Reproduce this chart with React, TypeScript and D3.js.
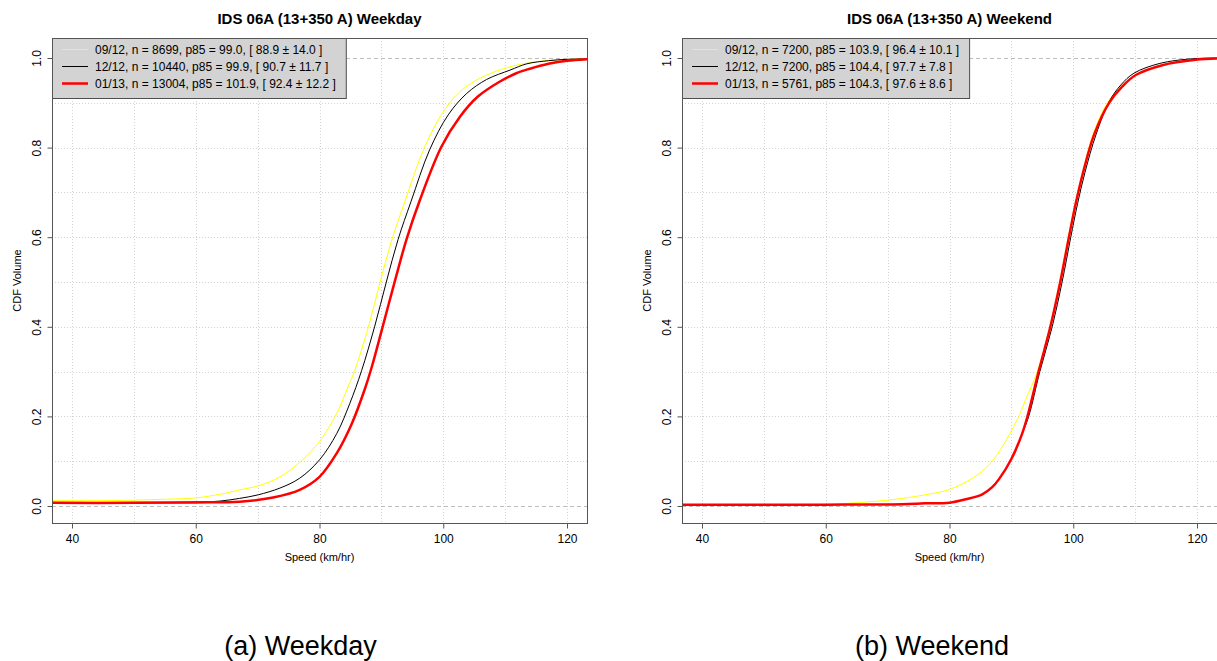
import React, { useEffect, useRef } from 'react'
import * as d3 from 'd3'

const W = 1217
const H = 661
const FONT = 'Liberation Sans, Arial, Helvetica, sans-serif'

// weekday, 09/12
const wdSepSpeed = [36, 45, 50, 55, 60, 63, 65, 67.1, 70.1, 73.6, 77.1, 80, 82.8, 84.4, 85.7, 87.9, 89.8, 91.6, 93.8, 96.8, 99.5, 102.1, 105.4, 109.7, 112.9, 116, 120, 124]
const wdSepCdf = [0.012, 0.012, 0.013, 0.015, 0.018, 0.024, 0.029, 0.036, 0.045, 0.065, 0.101, 0.144, 0.207, 0.259, 0.303, 0.4, 0.5, 0.59, 0.68, 0.795, 0.869, 0.917, 0.951, 0.976, 0.987, 0.993, 0.997, 0.998]
// weekday, 12/12
const wdDecSpeed = [36, 50, 60, 63.9, 67.1, 70.1, 73.6, 76.8, 80, 82.8, 84.9, 86.8, 88.9, 90.8, 92.7, 94.8, 97.8, 100.8, 103.8, 107, 110.8, 113.5, 117, 120, 124]
const wdDecCdf = [0.008, 0.008, 0.009, 0.011, 0.017, 0.025, 0.04, 0.062, 0.103, 0.162, 0.229, 0.302, 0.4, 0.5, 0.595, 0.68, 0.795, 0.873, 0.921, 0.952, 0.973, 0.987, 0.994, 0.997, 0.998]
// weekday, 01/13
const wdJanSpeed = [36, 50, 60, 67.1, 72.5, 76.8, 80, 82.8, 85.2, 87.3, 88.4, 90.3, 92.2, 94.1, 96.2, 99.7, 102.7, 105.6, 109.1, 111.8, 114, 117, 120, 124]
const wdJanCdf = [0.007, 0.007, 0.008, 0.0096, 0.019, 0.036, 0.065, 0.118, 0.183, 0.26, 0.308, 0.405, 0.503, 0.597, 0.682, 0.802, 0.869, 0.914, 0.947, 0.966, 0.976, 0.987, 0.994, 0.998]

// weekend, 09/12
const weSepSpeed = [36, 60, 61.6, 70, 76.1, 80, 83.7, 86.4, 88, 90.1, 91.2, 92.3, 94.2, 96.2, 97.8, 99.2, 100.3, 101.5, 103.2, 105.5, 107.8, 110, 114.4, 119.8, 124]
const weSepCdf = [0.003, 0.004, 0.0045, 0.013, 0.025, 0.037, 0.062, 0.092, 0.121, 0.17, 0.2, 0.237, 0.3, 0.4, 0.5, 0.6, 0.675, 0.745, 0.83, 0.9, 0.937, 0.962, 0.985, 0.996, 0.999]
// weekend, 12/12
const weDecSpeed = [36, 60, 72.4, 76, 80, 82.6, 85.3, 86.9, 88, 90, 91.7, 92.8, 94.6, 96.6, 98.2, 99.6, 100.7, 101.9, 103.7, 105.9, 107.7, 109.8, 114, 119, 124]
const weDecCdf = [0.003, 0.003, 0.004, 0.006, 0.0075, 0.015, 0.026, 0.042, 0.06, 0.105, 0.16, 0.2, 0.3, 0.4, 0.5, 0.6, 0.675, 0.745, 0.83, 0.905, 0.94, 0.966, 0.988, 0.998, 1.0]
// weekend, 01/13
const weJanSpeed = [36, 60, 72.4, 76, 80, 82.6, 85.3, 86.9, 88, 90, 91.7, 92.6, 94.4, 96.3, 97.9, 99.3, 100.4, 101.6, 103.4, 105.8, 107.9, 110.1, 114.4, 119.8, 124]
const weJanCdf = [0.003, 0.003, 0.004, 0.006, 0.0075, 0.015, 0.026, 0.042, 0.06, 0.105, 0.16, 0.2, 0.3, 0.4, 0.5, 0.6, 0.675, 0.745, 0.83, 0.9, 0.936, 0.962, 0.984, 0.996, 0.999]

const weekdayLabels = [
  '09/12, n = 8699, p85 = 99.0, [ 88.9 ± 14.0 ]',
  '12/12, n = 10440, p85 = 99.9, [ 90.7 ± 11.7 ]',
  '01/13, n = 13004, p85 = 101.9, [ 92.4 ± 12.2 ]',
]
const weekendLabels = [
  '09/12, n = 7200, p85 = 103.9, [ 96.4 ± 10.1 ]',
  '12/12, n = 7200, p85 = 104.4, [ 97.7 ± 7.8 ]',
  '01/13, n = 5761, p85 = 104.3, [ 97.6 ± 8.6 ]',
]

const xTicks = [40, 60, 80, 100, 120]
const yTicks = [0, 0.2, 0.4, 0.6, 0.8, 1.0]
const seriesColors = ['#ffff00', '#000000', '#ff0000']
const seriesWidths = [1, 1, 2.5]

const panels = [
  {
    title: 'IDS 06A (13+350 A) Weekday',
    caption: '(a) Weekday',
    labels: weekdayLabels,
    series: [[wdSepSpeed, wdSepCdf], [wdDecSpeed, wdDecCdf], [wdJanSpeed, wdJanCdf]],
  },
  {
    title: 'IDS 06A (13+350 A) Weekend',
    caption: '(b) Weekend',
    labels: weekendLabels,
    series: [[weSepSpeed, weSepCdf], [weDecSpeed, weDecCdf], [weJanSpeed, weJanCdf]],
  },
]

function drawPanel(svg: any, p: any, i: number) {
  const dx = i * 630
  const left = 52, right = 587, top = 38, bottom = 523
  const g = svg.append('g').attr('transform', `translate(${dx},0)`)

  const x = d3.scaleLinear().domain([40, 120]).range([72, 567])
  const y = d3.scaleLinear().domain([0, 1]).range([506, 58])

  const clipId = `clip-${i}`
  g.append('clipPath').attr('id', clipId)
    .append('rect').attr('x', left).attr('y', top).attr('width', right - left).attr('height', bottom - top)

  // grid
  const grid = g.append('g').attr('stroke', '#d3d3d3').attr('stroke-width', 1).attr('stroke-dasharray', '1,2')
  grid.selectAll('line.v').data(d3.range(40, 121, 10)).join('line')
    .attr('class', 'v')
    .attr('x1', (d: number) => Math.round(x(d)) + 0.5).attr('x2', (d: number) => Math.round(x(d)) + 0.5)
    .attr('y1', top).attr('y2', bottom)
  grid.selectAll('line.h').data(d3.range(1, 10).map(d => d / 10)).join('line')
    .attr('class', 'h')
    .attr('y1', (d: number) => Math.round(y(d)) + 0.5).attr('y2', (d: number) => Math.round(y(d)) + 0.5)
    .attr('x1', left).attr('x2', right)
  g.append('g').attr('stroke', '#bebebe').attr('stroke-dasharray', '4,3')
    .selectAll('line').data([0, 1]).join('line')
    .attr('y1', (d: number) => Math.round(y(d)) + 0.5).attr('y2', (d: number) => Math.round(y(d)) + 0.5)
    .attr('x1', left).attr('x2', right)

  // curves
  const line = d3.line<number[]>()
    .x(d => x(d[0]))
    .y(d => y(d[1]))
    .curve(d3.curveCatmullRom.alpha(0.5))
  const lines = g.append('g').attr('clip-path', `url(#${clipId})`)
  p.series.forEach((s: number[][], k: number) => {
    const pts = s[0].map((v, j) => [v, s[1][j]])
    lines.append('path')
      .attr('d', line(pts))
      .attr('fill', 'none')
      .attr('stroke', seriesColors[k])
      .attr('stroke-width', seriesWidths[k])
      .attr('stroke-linejoin', 'round')
  })

  // legend
  const leg = g.append('g').attr('font-family', FONT).attr('font-size', 12)
  const legRect = leg.append('rect').attr('x', left + 0.5).attr('y', top + 0.5).attr('height', 60)
    .attr('fill', '#d3d3d3').attr('stroke', '#4d4d4d')
  let maxLen = 0
  p.labels.forEach((t: string, k: number) => {
    const ly = 49.5 + k * 17
    leg.append('line').attr('x1', 62).attr('x2', 88).attr('y1', ly).attr('y2', ly)
      .attr('stroke', seriesColors[k]).attr('stroke-width', seriesWidths[k])
    const txt = leg.append('text').attr('x', 95).attr('y', ly).attr('dy', '0.35em').attr('fill', '#000').text(t)
    maxLen = Math.max(maxLen, (txt.node() as SVGTextElement).getComputedTextLength())
  })
  legRect.attr('width', 95 + maxLen + 10 - left)

  // box
  g.append('rect').attr('x', left + 0.5).attr('y', top + 0.5)
    .attr('width', right - left).attr('height', bottom - top)
    .attr('fill', 'none').attr('stroke', '#555')

  // axes
  const ax = g.append('g').attr('transform', `translate(0,${bottom + 0.5})`)
    .call(d3.axisBottom(x).tickValues(xTicks).tickSize(5).tickPadding(6).tickFormat(d3.format('d')))
  ax.select('.domain').remove()
  ax.attr('font-family', FONT).attr('font-size', 12)
  ax.selectAll('line').attr('stroke', '#555')

  const ay = g.append('g').attr('transform', `translate(${left + 0.5},0)`)
    .call(d3.axisLeft(y).tickValues(yTicks).tickSize(5).tickFormat(d3.format('.1f')))
  ay.select('.domain').remove()
  ay.attr('font-family', FONT).attr('font-size', 12)
  ay.selectAll('line').attr('stroke', '#555')
  ay.selectAll('text')
    .attr('x', 0).attr('y', -12).attr('dy', null)
    .attr('text-anchor', 'middle')
    .attr('transform', 'rotate(-90)')

  // titles
  g.append('text').attr('x', (left + right) / 2).attr('y', 24)
    .attr('text-anchor', 'middle').attr('font-family', FONT).attr('font-size', 15).attr('font-weight', 'bold')
    .text(p.title)
  g.append('text').attr('x', (left + right) / 2).attr('y', 561)
    .attr('text-anchor', 'middle').attr('font-family', FONT).attr('font-size', 11)
    .text('Speed (km/hr)')
  g.append('text').attr('transform', `translate(21,${(top + bottom) / 2}) rotate(-90)`)
    .attr('text-anchor', 'middle').attr('font-family', FONT).attr('font-size', 11)
    .text('CDF Volume')

  svg.append('text').attr('x', i === 0 ? 300.5 : 932).attr('y', 655)
    .attr('text-anchor', 'middle').attr('font-family', FONT).attr('font-size', 27)
    .text(p.caption)
}

export default function App() {
  const ref = useRef<SVGSVGElement>(null)

  useEffect(() => {
    document.body.style.margin = '0'
    const svg = d3.select(ref.current)
    svg.selectAll('*').remove()
    svg.append('rect').attr('width', W).attr('height', H).attr('fill', '#fff')
    panels.forEach((p, i) => drawPanel(svg, p, i))
  }, [])

  return <svg ref={ref} width={W} height={H} style={{ display: 'block' }} />
}
